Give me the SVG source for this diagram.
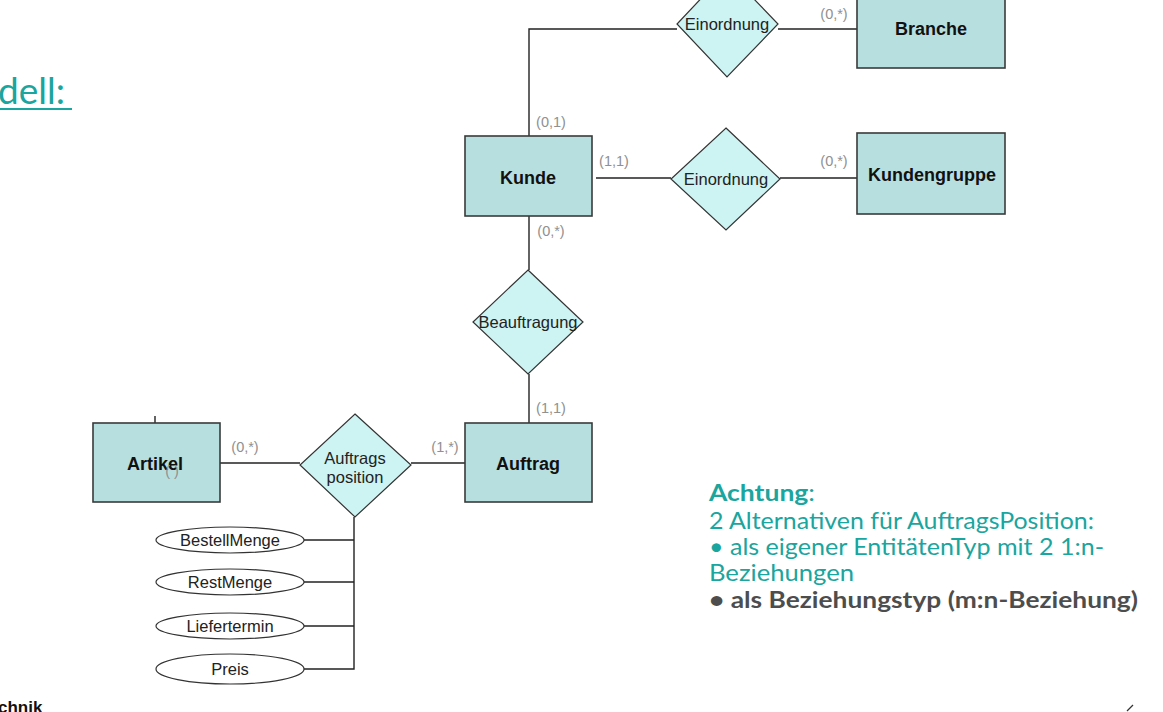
<svg xmlns="http://www.w3.org/2000/svg" width="1163" height="712" viewBox="0 0 1163 712">
<style>
.ent{fill:#b8dfe0;stroke:#3a3a3a;stroke-width:1.6}
.rel{fill:#cdf3f2;stroke:#333;stroke-width:1.2}
.att{fill:#fff;stroke:#333;stroke-width:1.2}
.con{fill:none;stroke:#222;stroke-width:1.4}
.et{font-family:"Liberation Sans",Arial,sans-serif;font-weight:bold;font-size:18px;fill:#111;text-anchor:middle;dominant-baseline:central}
.rt{font-family:"Liberation Sans",Arial,sans-serif;font-size:16.5px;fill:#222;text-anchor:middle;dominant-baseline:central}
.at{font-family:"Liberation Sans",Arial,sans-serif;font-size:16.5px;fill:#222;text-anchor:middle;dominant-baseline:central}
.card{font-family:"Liberation Sans",Arial,sans-serif;font-size:14.5px;fill:#909090;text-anchor:middle;dominant-baseline:central}
.note{font-family:Lato,"Open Sans",sans-serif;font-size:23px}
.teal{fill:#1aa59e}
.grey{fill:#4d4d4d;font-weight:bold}
</style>
<rect width="1163" height="712" fill="#fff"/>
<text x="-2" y="104" font-family="Lato,'Open Sans',sans-serif" font-size="37" fill="#1aa59e">dell:</text>
<line x1="0" y1="109" x2="72" y2="109" stroke="#1aa59e" stroke-width="2"/>
<g id="connectors">
<polyline class="con" points="529,136 529,29 677,29"/>
<line class="con" x1="778" y1="29" x2="857" y2="29"/>
<line class="con" x1="596" y1="178" x2="671" y2="178"/>
<line class="con" x1="780" y1="178" x2="857" y2="178"/>
<line class="con" x1="529" y1="216" x2="529" y2="270"/>
<line class="con" x1="529" y1="374" x2="529" y2="423"/>
<line class="con" x1="220" y1="463" x2="300" y2="463"/>
<line class="con" x1="411" y1="463" x2="465" y2="463"/>
<line class="con" x1="155" y1="416" x2="155" y2="423"/>
<polyline class="con" points="354,517 354,669 304,669"/>
<line class="con" x1="304" y1="540" x2="354" y2="540"/>
<line class="con" x1="304" y1="582" x2="354" y2="582"/>
<line class="con" x1="304" y1="626" x2="354" y2="626"/>
</g>
<g id="cards">
<text class="card" x="834" y="14">(0,*)</text>
<text class="card" x="551" y="122">(0,1)</text>
<text class="card" x="614" y="161">(1,1)</text>
<text class="card" x="834" y="161">(0,*)</text>
<text class="card" x="551" y="231">(0,*)</text>
<text class="card" x="551" y="408">(1,1)</text>
<text class="card" x="245" y="447">(0,*)</text>
<text class="card" x="445" y="447">(1,*)</text>
</g>
<g id="branche"><rect class="ent" x="857" y="-12" width="148" height="80"/><text class="et" x="931" y="29">Branche</text></g>
<g id="einordnung1"><polygon class="rel" points="727,-29 778,24 727,77 677,24"/><text class="rt" x="727" y="24">Einordnung</text></g>
<g id="kunde"><rect class="ent" x="465" y="136" width="127" height="80"/><text class="et" x="528" y="178">Kunde</text></g>
<g id="einordnung2"><polygon class="rel" points="726,128 780,179 726,230 671,179"/><text class="rt" x="726" y="179">Einordnung</text></g>
<g id="kundengruppe"><rect class="ent" x="857" y="133" width="148" height="81"/><text class="et" x="932" y="175">Kundengruppe</text></g>
<g id="beauftragung"><polygon class="rel" points="528,270 583,322 528,374 473,322"/><text class="rt" x="528" y="322">Beauftragung</text></g>
<g id="auftrag"><rect class="ent" x="465" y="423" width="127" height="79"/><text class="et" x="528" y="464">Auftrag</text></g>
<g id="artikel"><rect class="ent" x="93" y="423" width="127" height="79"/><text class="et" x="155" y="464">Artikel</text><text class="card" x="172" y="471" font-size="12">(   )</text></g>
<g id="auftragsposition"><polygon class="rel" points="355,414 411,465 355,517 300,465"/><text class="rt" x="355" y="458">Auftrags</text><text class="rt" x="355" y="477">position</text></g>
<g id="bestellmenge"><ellipse class="att" cx="230" cy="540" rx="74" ry="13"/><text class="at" x="230" y="540">BestellMenge</text></g>
<g id="restmenge"><ellipse class="att" cx="230" cy="582" rx="74" ry="13"/><text class="at" x="230" y="582">RestMenge</text></g>
<g id="liefertermin"><ellipse class="att" cx="230" cy="626" rx="74" ry="13"/><text class="at" x="230" y="626">Liefertermin</text></g>
<g id="preis"><ellipse class="att" cx="230" cy="669" rx="74" ry="15"/><text class="at" x="230" y="669">Preis</text></g>
<g id="note">
<text class="note teal" x="709" y="501" textLength="106" lengthAdjust="spacingAndGlyphs"><tspan font-weight="bold">Achtung</tspan>:</text>
<text class="note teal" x="709" y="529" textLength="385" lengthAdjust="spacingAndGlyphs">2 Alternativen für AuftragsPosition:</text>
<text class="note teal" x="709" y="555" textLength="395" lengthAdjust="spacingAndGlyphs">• als eigener EntitätenTyp mit 2 1:n-</text>
<text class="note teal" x="709" y="581" textLength="145" lengthAdjust="spacingAndGlyphs">Beziehungen</text>
<text class="note grey" x="709" y="608" textLength="429" lengthAdjust="spacingAndGlyphs">• als Beziehungstyp (m:n-Beziehung)</text>
</g>
<text x="-2" y="713" font-family="'Liberation Sans',Arial,sans-serif" font-weight="bold" font-size="17" fill="#111">chnik</text>
<line x1="1127" y1="711" x2="1133" y2="705" stroke="#333" stroke-width="1.3"/>
</svg>
